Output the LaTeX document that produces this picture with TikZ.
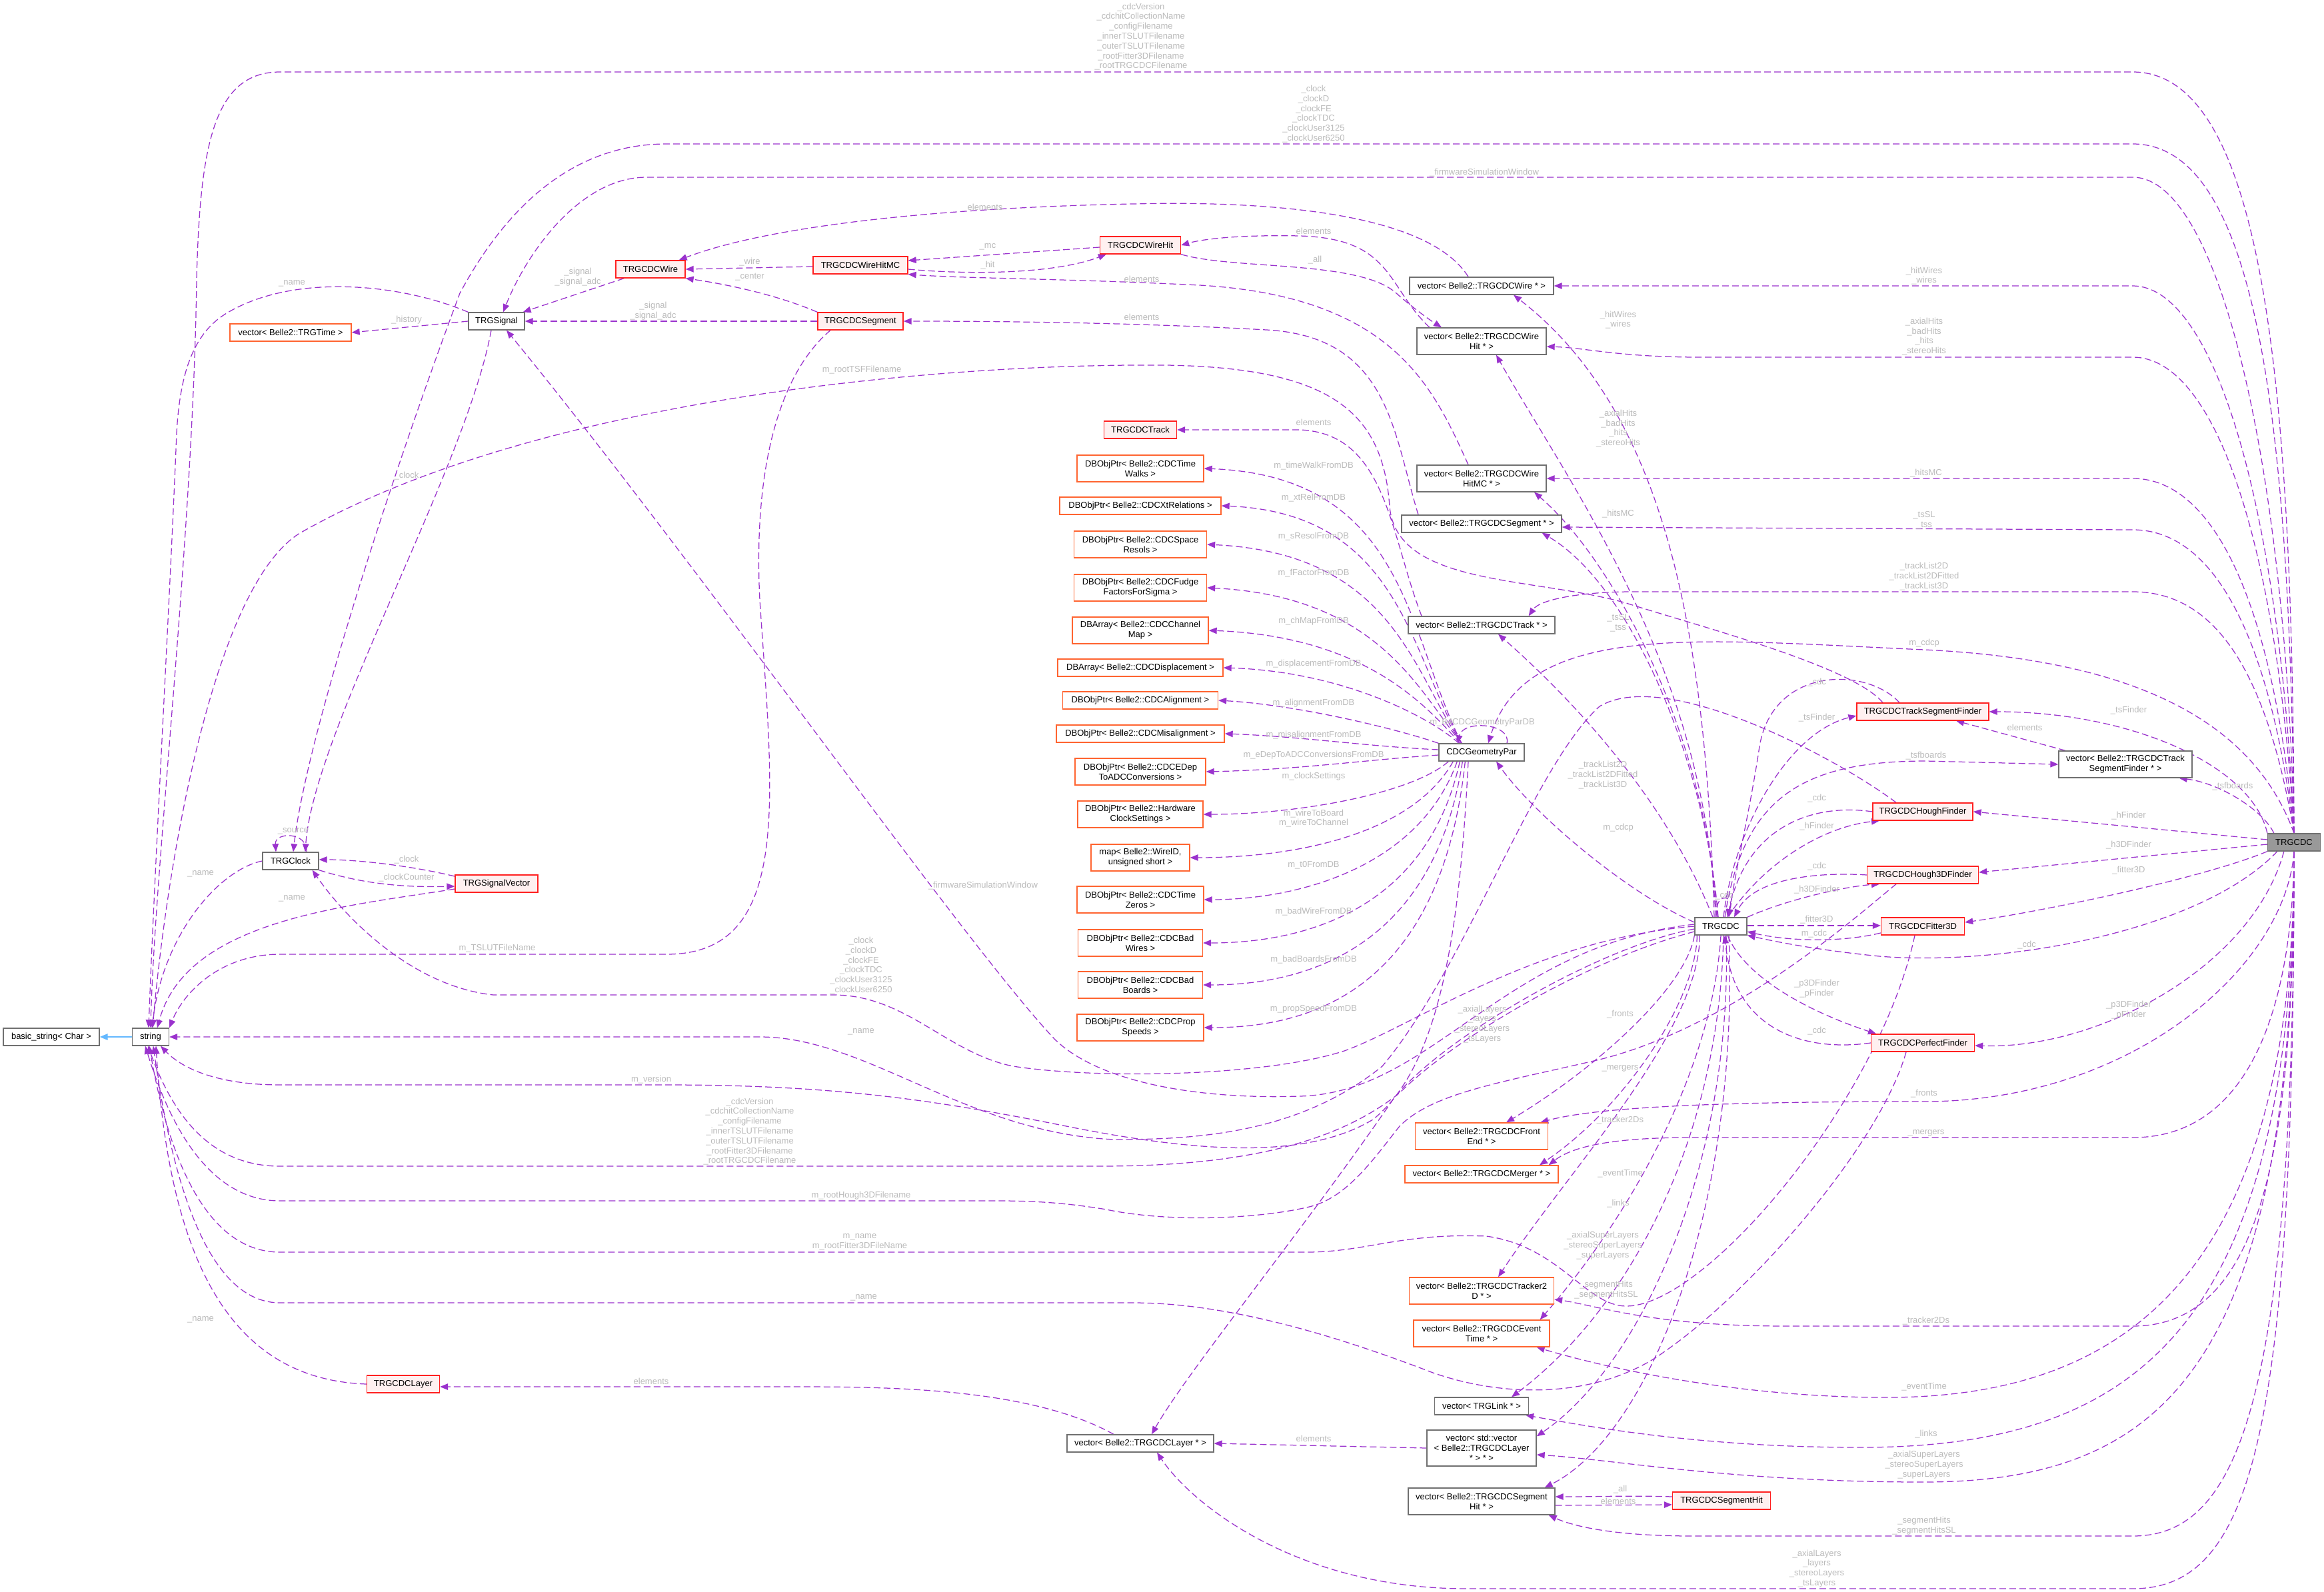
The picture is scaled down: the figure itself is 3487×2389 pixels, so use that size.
\documentclass[tikz,border=0pt]{standalone}
\usepackage{fontspec}
\setmainfont{Liberation Sans}
\usetikzlibrary{arrows.meta}
\definecolor{edgec}{HTML}{9A32CD}
\definecolor{labc}{HTML}{BBBBBB}
\definecolor{boxgray}{HTML}{707070}
\definecolor{redb}{HTML}{FF2020}
\definecolor{redf}{HTML}{FFF0F0}
\definecolor{orangeb}{HTML}{FF6430}
\definecolor{grayf}{HTML}{999999}
\definecolor{inhc}{HTML}{63B8FF}
\pgfdeclarelayer{bg}
\pgfsetlayers{bg,main}
\tikzset{
  nbox/.style={draw=boxgray, fill=white, line width=1.3pt, inner sep=1pt, minimum height=26pt, align=center, text=black},
  rbox/.style={nbox, draw=redb, fill=redf},
  obox/.style={nbox, draw=orangeb},
  gbox/.style={nbox, fill=grayf},
  two/.style={minimum height=40pt},
  lab/.style={text=labc, align=center, inner sep=0pt},
  edg/.style={draw=edgec, line width=1.25pt, dash pattern=on 10pt off 5pt, -{Triangle[length=12pt,width=9.5pt]}},
  inh/.style={draw=inhc, line width=1.6pt, -{Triangle[length=12pt,width=9.5pt]}},
}
\begin{document}
\begin{tikzpicture}[x=1pt,y=-1pt,font=\fontsize{13}{14.8}\selectfont]
\useasboundingbox (0,0) rectangle (3487,2389);
% ---------------- nodes
\node[nbox, minimum width=144pt] (bstr) at (77,1556) {basic\_string< Char >};
\node[nbox, minimum width=55pt] (str) at (226,1556) {string};
\node[nbox, minimum width=84pt] (clk) at (436,1292) {TRGClock};
\node[rbox, minimum width=124pt] (sv) at (745,1326) {TRGSignalVector};
\node[rbox, minimum width=109pt] (lay) at (605,2077) {TRGCDCLayer};
\node[obox, minimum width=182pt] (ttime) at (436,499) {vector< Belle2::TRGTime >};
\node[nbox, minimum width=84pt] (sig) at (745,482) {TRGSignal};
\node[rbox, minimum width=104pt] (wire) at (976,404) {TRGCDCWire};
\node[rbox, minimum width=142pt] (whmc) at (1291,398) {TRGCDCWireHitMC};
\node[rbox, minimum width=128pt] (seg) at (1291,482) {TRGCDCSegment};
\node[rbox, minimum width=121pt] (wh) at (1711,368) {TRGCDCWireHit};
\node[rbox, minimum width=109pt] (trk) at (1711,645) {TRGCDCTrack};
\node[obox, two, minimum width=190pt] (tw) at (1711,703) {DBObjPtr< Belle2::CDCTime\\Walks >};
\node[obox, minimum width=242pt] (xt) at (1711,759) {DBObjPtr< Belle2::CDCXtRelations >};
\node[obox, two, minimum width=199pt] (sr) at (1711,817) {DBObjPtr< Belle2::CDCSpace\\Resols >};
\node[obox, two, minimum width=199pt] (ff) at (1711,882) {DBObjPtr< Belle2::CDCFudge\\FactorsForSigma >};
\node[obox, two, minimum width=204pt] (cm) at (1711,946) {DBArray< Belle2::CDCChannel\\Map >};
\node[obox, minimum width=248pt] (dp) at (1711,1002) {DBArray< Belle2::CDCDisplacement >};
\node[obox, minimum width=233pt] (al) at (1711,1051) {DBObjPtr< Belle2::CDCAlignment >};
\node[obox, minimum width=252pt] (ma) at (1711,1101) {DBObjPtr< Belle2::CDCMisalignment >};
\node[obox, two, minimum width=196pt] (ed) at (1711,1158) {DBObjPtr< Belle2::CDCEDep\\ToADCConversions >};
\node[obox, two, minimum width=188pt] (hw) at (1711,1222) {DBObjPtr< Belle2::Hardware\\ClockSettings >};
\node[obox, two, minimum width=148pt] (wm) at (1711,1287) {map< Belle2::WireID,\\unsigned short >};
\node[obox, two, minimum width=190pt] (tz) at (1711,1350) {DBObjPtr< Belle2::CDCTime\\Zeros >};
\node[obox, two, minimum width=187pt] (bw) at (1711,1415) {DBObjPtr< Belle2::CDCBad\\Wires >};
\node[obox, two, minimum width=187pt] (bb) at (1711,1478) {DBObjPtr< Belle2::CDCBad\\Boards >};
\node[obox, two, minimum width=190pt] (ps) at (1711,1542) {DBObjPtr< Belle2::CDCProp\\Speeds >};
\node[nbox, minimum width=220pt] (vlay) at (1711,2166) {vector< Belle2::TRGCDCLayer * >};
\node[nbox, minimum width=216pt] (vwire) at (2223,429) {vector< Belle2::TRGCDCWire * >};
\node[nbox, two, minimum width=194pt] (vwh) at (2223,512) {vector< Belle2::TRGCDCWire\\Hit * >};
\node[nbox, two, minimum width=194pt] (vwhmc) at (2223,718) {vector< Belle2::TRGCDCWire\\HitMC * >};
\node[nbox, minimum width=240pt] (vseg) at (2223,786) {vector< Belle2::TRGCDCSegment * >};
\node[nbox, minimum width=220pt] (vtrk) at (2223,938) {vector< Belle2::TRGCDCTrack * >};
\node[nbox, minimum width=128pt] (geo) at (2223,1129) {CDCGeometryPar};
\node[obox, two, minimum width=199pt] (vfe) at (2223,1705) {vector< Belle2::TRGCDCFront\\End * >};
\node[obox, minimum width=230pt] (vmg) at (2223,1762) {vector< Belle2::TRGCDCMerger * >};
\node[obox, two, minimum width=217pt] (vt2d) at (2223,1937) {vector< Belle2::TRGCDCTracker2\\D * >};
\node[obox, two, minimum width=204pt] (vet) at (2223,2001) {vector< Belle2::TRGCDCEvent\\Time * >};
\node[nbox, minimum width=141pt] (vlink) at (2223,2110) {vector< TRGLink * >};
\node[nbox, minimum width=164pt, minimum height=54pt] (vvl) at (2223,2173) {vector< std::vector\\< Belle2::TRGCDCLayer\\ * > * >};
\node[nbox, two, minimum width=220pt] (vsh) at (2223,2253) {vector< Belle2::TRGCDCSegment\\Hit * >};
\node[nbox, minimum width=78pt] (M) at (2582,1390) {TRGCDC};
\node[rbox, minimum width=147pt] (sh) at (2583,2252) {TRGCDCSegmentHit};
\node[rbox, minimum width=198pt] (tsf) at (2885,1068) {TRGCDCTrackSegmentFinder};
\node[nbox, two, minimum width=200pt] (vtsf) at (3189,1147) {vector< Belle2::TRGCDCTrack\\SegmentFinder * >};
\node[rbox, minimum width=150pt] (hf) at (2885,1218) {TRGCDCHoughFinder};
\node[rbox, minimum width=167pt] (h3d) at (2885,1313) {TRGCDCHough3DFinder};
\node[rbox, minimum width=125pt] (fit) at (2885,1390) {TRGCDCFitter3D};
\node[rbox, minimum width=155pt] (pf) at (2885,1565) {TRGCDCPerfectFinder};
\node[gbox, minimum width=79pt] (R) at (3442,1264) {TRGCDC};
% ---------------- labels
\node[lab] (l1) at (1712,55) {\_cdcVersion\\\_cdchitCollectionName\\\_configFilename\\\_innerTSLUTFilename\\\_outerTSLUTFilename\\\_rootFitter3DFilename\\\_rootTRGCDCFilename};
\node[lab] (l2) at (1971,171) {\_clock\\\_clockD\\\_clockFE\\\_clockTDC\\\_clockUser3125\\\_clockUser6250};
\node[lab] (l3) at (2227,259) {\_firmwareSimulationWindow};
\node[lab] (l4) at (1478,311) {elements};
\node[lab] (l5) at (1482,370) {\_mc};
\node[lab] (l6) at (1482,398) {\_hit};
\node[lab] (l7) at (1971,347) {elements};
\node[lab] (l8) at (1973,390) {\_all};
\node[lab] (l9) at (1125,393) {\_wire};
\node[lab] (l10) at (1125,416) {\_center};
\node[lab] (l11) at (867,416) {\_signal\\\_signal\_adc};
\node[lab] (l12) at (980,467) {\_signal\\\_signal\_adc};
\node[lab] (l13) at (438,425) {\_name};
\node[lab] (l14) at (610,480) {\_history};
\node[lab] (l15) at (610,714) {\_clock};
\node[lab] (l16) at (1713,419) {elements};
\node[lab] (l17) at (1713,476) {elements};
\node[lab] (l18) at (1293,555) {m\_rootTSFFilename};
\node[lab] (l19) at (2887,414) {\_hitWires\\\_wires};
\node[lab] (l20) at (2428,480) {\_hitWires\\\_wires};
\node[lab] (l21) at (2887,505) {\_axialHits\\\_badHits\\\_hits\\\_stereoHits};
\node[lab] (l22) at (2428,643) {\_axialHits\\\_badHits\\\_hits\\\_stereoHits};
\node[lab] (l23) at (2890,710) {\_hitsMC};
\node[lab] (l24) at (2428,771) {\_hitsMC};
\node[lab] (l25) at (2887,781) {\_tsSL\\\_tss};
\node[lab] (l26) at (2428,935) {\_tsSL\\\_tss};
\node[lab] (l27) at (1971,634) {elements};
\node[lab] (l28) at (1971,699) {m\_timeWalkFromDB};
\node[lab] (l29) at (1971,747) {m\_xtRelFromDB};
\node[lab] (l30) at (1971,805) {m\_sResolFromDB};
\node[lab] (l31) at (1971,860) {m\_fFactorFromDB};
\node[lab] (l32) at (1971,932) {m\_chMapFromDB};
\node[lab] (l33) at (1971,996) {m\_displacementFromDB};
\node[lab] (l34) at (1971,1055) {m\_alignmentFromDB};
\node[lab] (l35) at (1971,1103) {m\_misalignmentFromDB};
\node[lab] (l36) at (1971,1133) {m\_eDepToADCConversionsFromDB};
\node[lab] (l37) at (1971,1165) {m\_clockSettings};
\node[lab] (l38) at (1971,1228) {m\_wireToBoard\\m\_wireToChannel};
\node[lab] (l39) at (1971,1298) {m\_t0FromDB};
\node[lab] (l40) at (1971,1368) {m\_badWireFromDB};
\node[lab] (l41) at (1971,1440) {m\_badBoardsFromDB};
\node[lab] (l42) at (1971,1514) {m\_propSpeedFromDB};
\node[lab] (l43) at (2224,1084) {m\_B4CDCGeometryParDB};
\node[lab] (l44) at (2887,865) {\_trackList2D\\\_trackList2DFitted\\\_trackList3D};
\node[lab] (l45) at (2405,1163) {\_trackList2D\\\_trackList2DFitted\\\_trackList3D};
\node[lab] (l46) at (2887,965) {m\_cdcp};
\node[lab] (l47) at (2428,1242) {m\_cdcp};
\node[lab] (l48) at (2726,1024) {\_cdc};
\node[lab] (l49) at (2726,1077) {\_tsFinder};
\node[lab] (l50) at (3194,1066) {\_tsFinder};
\node[lab] (l51) at (3038,1092) {elements};
\node[lab] (l52) at (2890,1134) {\_tsfboards};
\node[lab] (l53) at (3350,1180) {\_tsfboards};
\node[lab] (l54) at (2726,1198) {\_cdc};
\node[lab] (l55) at (2726,1240) {\_hFinder};
\node[lab] (l56) at (3194,1224) {\_hFinder};
\node[lab] (l57) at (2726,1300) {\_cdc};
\node[lab] (l58) at (2726,1335) {\_h3DFinder};
\node[lab] (l59) at (3194,1268) {\_h3DFinder};
\node[lab] (l60) at (2587,1344) {\_cdc};
\node[lab] (l61) at (2726,1380) {\_fitter3D};
\node[lab] (l62) at (2722,1401) {m\_cdc};
\node[lab] (l63) at (3194,1306) {\_fitter3D};
\node[lab] (l64) at (3041,1418) {\_cdc};
\node[lab] (l65) at (2726,1484) {\_p3DFinder\\\_pFinder};
\node[lab] (l66) at (3194,1516) {\_p3DFinder\\\_pFinder};
\node[lab] (l67) at (2726,1547) {\_cdc};
\node[lab] (l68) at (2431,1522) {\_fronts};
\node[lab] (l69) at (2887,1641) {\_fronts};
\node[lab] (l70) at (2431,1603) {\_mergers};
\node[lab] (l71) at (2890,1700) {\_mergers};
\node[lab] (l72) at (2431,1681) {\_tracker2Ds};
\node[lab] (l73) at (2890,1982) {\_tracker2Ds};
\node[lab] (l74) at (2431,1761) {\_eventTime};
\node[lab] (l75) at (2887,2081) {\_eventTime};
\node[lab] (l76) at (2428,1806) {\_links};
\node[lab] (l77) at (2890,2152) {\_links};
\node[lab] (l78) at (2405,1869) {\_axialSuperLayers\\\_stereoSuperLayers\\\_superLayers};
\node[lab] (l79) at (2887,2198) {\_axialSuperLayers\\\_stereoSuperLayers\\\_superLayers};
\node[lab] (l80) at (2410,1936) {\_segmentHits\\\_segmentHitsSL};
\node[lab] (l81) at (2887,2290) {\_segmentHits\\\_segmentHitsSL};
\node[lab] (l82) at (2224,1537) {\_axialLayers\\\_layers\\\_stereoLayers\\\_tsLayers};
\node[lab] (l83) at (2726,2354) {\_axialLayers\\\_layers\\\_stereoLayers\\\_tsLayers};
\node[lab] (l84) at (2431,2235) {\_all};
\node[lab] (l85) at (2428,2253) {elements};
\node[lab] (l86) at (1971,2159) {elements};
\node[lab] (l87) at (977,2073) {elements};
\node[lab] (l88) at (301,1980) {\_name};
\node[lab] (l89) at (1296,1947) {\_name};
\node[lab] (l90) at (1290,1864) {m\_name\\m\_rootFitter3DFileName};
\node[lab] (l91) at (1292,1794) {m\_rootHough3DFilename};
\node[lab] (l92) at (1125,1698) {\_cdcVersion\\\_cdchitCollectionName\\\_configFilename\\\_innerTSLUTFilename\\\_outerTSLUTFilename\\\_rootFitter3DFilename\\\_rootTRGCDCFilename};
\node[lab] (l93) at (977,1620) {m\_version};
\node[lab] (l94) at (1292,1548) {\_name};
\node[lab] (l95) at (1292,1449) {\_clock\\\_clockD\\\_clockFE\\\_clockTDC\\\_clockUser3125\\\_clockUser6250};
\node[lab] (l96) at (1475,1329) {\_firmwareSimulationWindow};
\node[lab] (l97) at (746,1423) {m\_TSLUTFileName};
\node[lab] (l98) at (438,1348) {\_name};
\node[lab] (l99) at (301,1311) {\_name};
\node[lab] (l100) at (440,1247) {\_source};
\node[lab] (l101) at (610,1290) {\_clock};
\node[lab] (l102) at (610,1317) {\_clockCounter};
% ---------------- edges
\begin{pgfonlayer}{bg}
\fill[white] (0,0) rectangle (3487,2389);
% main TRGCDC, upwards
\draw[edg] (R.north) .. controls (3440,600) and (3400,108) .. (3200,108) -- (420,108) .. controls (320,108) and (300,220) .. (295,420) .. controls (290,800) and (232,1300) .. (str.north);
\draw[edg] (R.north) .. controls (3436,650) and (3390,216) .. (3200,216) -- (1000,216) .. controls (860,216) and (760,310) .. (690,440) .. controls (600,680) and (460,1100) .. ([xshift=4pt]clk.north);
\draw[edg] (R.north) .. controls (3430,700) and (3330,266) .. (3200,266) -- (970,266) .. controls (870,266) and (790,380) .. ([xshift=10pt]sig.north);
\draw[edg] (R.north) .. controls (3420,750) and (3320,429) .. (3200,429) -- (vwire.east);
\draw[edg] (R.north) .. controls (3415,800) and (3320,536) .. (3200,536) -- (2550,536) .. controls (2430,536) and (2380,522) .. ([yshift=-8pt]vwh.east);
\draw[edg] (R.north) .. controls (3410,900) and (3320,718) .. (3200,718) -- (vwhmc.east);
\draw[edg] (R.north) .. controls (3405,950) and (3320,795) .. (3200,795) -- ([yshift=-5pt]vseg.east);
\draw[edg] (R.north) .. controls (3400,1000) and (3320,888) .. (3200,888) -- (2450,888) .. controls (2370,888) and (2310,900) .. ([xshift=-40pt]vtrk.north east);
\draw[edg] (R.north) .. controls (3380,1080) and (3200,990) .. (2887,975) .. controls (2550,960) and (2290,930) .. ([xshift=10pt]geo.north);
% main TRGCDC, sideways
\draw[edg] (R.north west) .. controls (3380,1150) and (3200,1068) .. (tsf.east);
\draw[edg] ([xshift=10pt]R.north west) .. controls (3395,1215) and (3330,1175) .. ([xshift=-20pt]vtsf.south east);
\draw[edg] ([yshift=4pt]R.west) -- (hf.east);
\draw[edg] ([yshift=-3pt]R.west) -- ([yshift=4pt]h3d.east);
\draw[edg] (R.south west) .. controls (3300,1320) and (3050,1370) .. ([yshift=6pt]fit.east);
\draw[edg] ([xshift=15pt]R.south west) .. controls (3300,1400) and (3000,1450) .. (2820,1435) .. controls (2720,1425) and (2660,1412) .. (M.south east);
\draw[edg] ([xshift=25pt]R.south west) .. controls (3380,1450) and (3150,1575) .. ([yshift=-4pt]pf.east);
% main TRGCDC, downwards
\draw[edg] (R.south) .. controls (3430,1450) and (3200,1653) .. (2887,1653) .. controls (2600,1653) and (2400,1660) .. ([xshift=-12pt]vfe.north east);
\draw[edg] (R.south) .. controls (3440,1500) and (3380,1707) .. (3200,1707) -- (2540,1707) .. controls (2420,1707) and (2360,1720) .. ([xshift=-15pt]vmg.north east);
\draw[edg] (R.south) .. controls (3442,1700) and (3400,1990) .. (3200,1990) -- (2680,1990) .. controls (2480,1990) and (2400,1960) .. ([yshift=8pt]vt2d.south east);
\draw[edg] (R.south) .. controls (3442,1900) and (3200,2097) .. (2830,2097) .. controls (2600,2097) and (2400,2050) .. ([xshift=-20pt]vet.south east);
\draw[edg] (R.south) .. controls (3442,2000) and (3200,2172) .. (2790,2172) .. controls (2550,2172) and (2380,2140) .. ([xshift=-5pt]vlink.south east);
\draw[edg] (R.south) .. controls (3442,2050) and (3250,2224) .. (2885,2224) .. controls (2600,2224) and (2420,2190) .. ([yshift=-10pt]vvl.east);
\draw[edg] (R.south) .. controls (3442,2100) and (3360,2305) .. (3200,2305) -- (2540,2305) .. controls (2420,2305) and (2360,2290) .. ([xshift=-10pt]vsh.south east);
\draw[edg] (R.south) .. controls (3442,2150) and (3380,2384) .. (3200,2384) -- (2200,2384) .. controls (1950,2384) and (1790,2260) .. ([xshift=25pt]vlay.south);
% inner TRGCDC
\draw[edg] ([xshift=-4pt]M.north) .. controls (2568,1340) and (2604,1340) .. ([xshift=10pt]M.north);
\draw[edg] ([xshift=-10pt]M.north) .. controls (2560,950) and (2500,620) .. ([xshift=48pt]vwire.south);
\draw[edg] ([xshift=-8pt]M.north) .. controls (2560,1000) and (2350,720) .. ([xshift=22pt]vwh.south);
\draw[edg] ([xshift=-6pt]M.north) .. controls (2560,1100) and (2420,840) .. ([xshift=79pt]vwhmc.south);
\draw[edg] ([xshift=-4pt]M.north) .. controls (2560,1150) and (2450,880) .. ([xshift=-30pt]vseg.south east);
\draw[edg] ([xshift=-12pt]M.north) .. controls (2500,1200) and (2360,1050) .. ([xshift=25pt]vtrk.south);
\draw[edg] ([yshift=6pt]M.west) .. controls (2440,1340) and (2300,1220) .. ([xshift=22pt]geo.south);
\draw[edg] ([xshift=4pt]M.north) .. controls (2600,1250) and (2680,1100) .. ([yshift=-6pt]tsf.west);
\draw[edg] ([xshift=6pt]M.north) .. controls (2615,1200) and (2700,1142) .. (2890,1142) -- (vtsf.west);
\draw[edg] ([xshift=10pt]M.north) .. controls (2650,1290) and (2740,1240) .. ([xshift=-65pt]hf.south);
\draw[edg] (M.north east) .. controls (2680,1350) and (2770,1330) .. ([xshift=-65pt]h3d.south);
\draw[edg] ([yshift=1pt]M.east) -- ([yshift=1pt]fit.west);
\draw[edg] ([yshift=-10pt]fit.west) .. controls (2760,1415) and (2680,1412) .. ([yshift=-8pt]M.east);
\draw[edg] ([xshift=10pt]M.south) .. controls (2620,1470) and (2720,1520) .. ([xshift=-70pt]pf.north);
\draw[edg] ([xshift=-35pt]tsf.north) .. controls (2800,1000) and (2660,1000) .. (2640,1120) .. controls (2625,1220) and (2605,1300) .. ([xshift=12pt]M.north);
\draw[edg] (hf.west) .. controls (2720,1205) and (2620,1240) .. ([xshift=10pt]M.north);
\draw[edg] (h3d.west) .. controls (2720,1308) and (2630,1320) .. ([xshift=20pt]M.north);
\draw[edg] (pf.west) .. controls (2700,1580) and (2600,1540) .. ([xshift=6pt]M.south);
\draw[edg] (M.south west) .. controls (2530,1480) and (2400,1600) .. ([xshift=37pt]vfe.north);
\draw[edg] ([xshift=4pt]M.south west) .. controls (2545,1500) and (2440,1660) .. ([xshift=87pt]vmg.north);
\draw[edg] ([xshift=8pt]M.south west) .. controls (2550,1550) and (2350,1760) .. ([xshift=25pt]vt2d.north);
\draw[edg] (M.south) .. controls (2570,1600) and (2450,1820) .. ([xshift=-15pt]vet.north east);
\draw[edg] ([xshift=4pt]M.south) .. controls (2580,1700) and (2450,1960) .. ([xshift=45pt]vlink.north);
\draw[edg] ([xshift=8pt]M.south) .. controls (2600,1750) and (2460,2050) .. ([yshift=-10pt]vvl.north east);
\draw[edg] ([xshift=12pt]M.south) .. controls (2610,1800) and (2480,2150) .. ([xshift=-16pt]vsh.north east);
\draw[edg] ([yshift=-4pt]M.west) .. controls (2400,1420) and (2160,1560) .. (2090,1650) .. controls (1960,1840) and (1780,2060) .. ([xshift=17pt]vlay.north);
\draw[edg] (M.west) .. controls (2300,1410) and (2120,1540) .. (2017,1577) .. controls (1900,1615) and (1650,1620) .. (1520,1600) .. controls (1420,1580) and (1360,1493) .. (1250,1493) -- (740,1493) .. controls (620,1480) and (520,1380) .. ([xshift=-10pt]clk.south east);
\draw[edg] ([yshift=3pt]M.west) .. controls (2250,1420) and (2150,1640) .. (1950,1645) .. controls (1800,1650) and (1650,1625) .. (1583,1560) .. controls (1450,1420) and (1050,850) .. ([xshift=15pt]sig.south);
\draw[edg] ([yshift=-8pt]M.west) .. controls (2380,1440) and (2180,1560) .. (2100,1640) .. controls (2000,1720) and (1850,1750) .. (1650,1750) -- (420,1750) .. controls (320,1750) and (262,1680) .. ([xshift=-4pt]str.south);
% finders to string
\draw[edg] ([xshift=-60pt]tsf.north) .. controls (2780,1000) and (2550,940) .. (2440,905) .. controls (2300,865) and (2095,880) .. (2085,760) .. controls (2075,620) and (2000,552) .. (1750,548) .. controls (1400,545) and (800,600) .. (450,800) .. controls (320,880) and (250,1300) .. ([xshift=3pt]str.north);
\draw[edg] ([xshift=-40pt]hf.north) .. controls (2760,1140) and (2500,1000) .. (2400,1060) .. controls (2300,1150) and (2200,1450) .. (2074,1600) .. controls (1950,1700) and (1800,1710) .. (1672,1710) .. controls (1450,1700) and (1300,1556) .. (1140,1556) -- (str.east);
\draw[edg] ([xshift=-40pt]h3d.south) .. controls (2780,1380) and (2600,1540) .. (2400,1590) .. controls (2250,1625) and (2150,1640) .. (2100,1690) .. controls (2060,1740) and (2020,1800) .. (1960,1812) .. controls (1880,1830) and (1750,1834) .. (1660,1815) .. controls (1600,1805) and (1550,1802) .. (1500,1802) -- (420,1802) .. controls (320,1802) and (258,1700) .. ([xshift=-8pt]str.south);
\draw[edg] ([xshift=-12pt]fit.south) .. controls (2820,1650) and (2560,1960) .. (2440,1960) .. controls (2380,1960) and (2340,1870) .. (2230,1855) .. controls (2100,1850) and (2050,1879) .. (1960,1879) -- (420,1879) .. controls (315,1879) and (255,1750) .. ([xshift=-2pt]str.south);
\draw[edg] ([xshift=-25pt]pf.south) .. controls (2820,1720) and (2620,1950) .. (2480,2040) .. controls (2380,2100) and (2250,2095) .. (2150,2060) .. controls (2020,2010) and (1850,1955) .. (1700,1955) -- (420,1955) .. controls (320,1955) and (262,1800) .. ([xshift=4pt]str.south);
\draw[edg] ([xshift=-20pt]geo.south) .. controls (2190,1400) and (2160,1600) .. (2060,1680) .. controls (1960,1740) and (1800,1730) .. (1600,1690) .. controls (1400,1650) and (1250,1628) .. (1000,1628) -- (420,1628) .. controls (330,1628) and (275,1605) .. ([xshift=15pt]str.south);
\draw[edg] ([xshift=-45pt]seg.south) .. controls (1170,560) and (1130,700) .. (1140,900) .. controls (1160,1200) and (1190,1432) .. (1000,1432) -- (420,1432) .. controls (330,1432) and (275,1490) .. (str.north east);
% CDCGeometryPar
\draw[edg] ([xshift=38pt]geo.north) .. controls (2268,1085) and (2195,1080) .. ([xshift=-36pt]geo.north);
\draw[edg] ([xshift=-30pt]geo.north) .. controls (2110,950) and (2110,715) .. (tw.east);
\draw[edg] ([xshift=-30pt]geo.north) .. controls (2115,980) and (2100,770) .. (xt.east);
\draw[edg] ([xshift=-30pt]geo.north) .. controls (2120,1010) and (2090,830) .. (sr.east);
\draw[edg] ([xshift=-30pt]geo.north) .. controls (2130,1040) and (2070,895) .. (ff.east);
\draw[edg] ([xshift=-32pt]geo.north) .. controls (2140,1060) and (2050,955) .. (cm.east);
\draw[edg] ([xshift=-34pt]geo.north) .. controls (2150,1080) and (2020,1008) .. (dp.east);
\draw[edg] (geo.north west) .. controls (2100,1095) and (1950,1058) .. (al.east);
\draw[edg] ([yshift=4pt]geo.west) .. controls (2050,1120) and (1950,1105) .. (ma.east);
\draw[edg] ([yshift=-4pt]geo.west) .. controls (2050,1140) and (1950,1155) .. (ed.east);
\draw[edg] ([xshift=15pt]geo.south west) .. controls (2120,1190) and (1950,1222) .. (hw.east);
\draw[edg] ([xshift=22pt]geo.south west) .. controls (2120,1250) and (1950,1287) .. (wm.east);
\draw[edg] ([xshift=28pt]geo.south west) .. controls (2130,1300) and (1950,1350) .. (tz.east);
\draw[edg] ([xshift=32pt]geo.south west) .. controls (2140,1370) and (1950,1415) .. (bw.east);
\draw[edg] ([xshift=36pt]geo.south west) .. controls (2150,1430) and (1950,1478) .. (bb.east);
\draw[edg] ([xshift=40pt]geo.south west) .. controls (2160,1500) and (1950,1542) .. (ps.east);
% containers to elements
\draw[edg] ([xshift=-20pt]vwire.north) .. controls (2150,330) and (1950,300) .. (1700,306) .. controls (1400,312) and (1150,340) .. ([xshift=-10pt]wire.north east);
\draw[edg] ([xshift=-78pt]vwh.north) .. controls (2080,430) and (2090,358) .. (1950,354) .. controls (1850,352) and (1800,360) .. (wh.east);
\draw[edg] (wh.south east) .. controls (1850,405) and (2040,390) .. (2095,440) .. controls (2120,462) and (2145,480) .. ([xshift=-60pt]vwh.north);
\draw[edg] ([xshift=-20pt]vwhmc.north) .. controls (2150,580) and (2090,445) .. (1800,428) .. controls (1600,418) and (1450,418) .. (whmc.south east);
\draw[edg] ([xshift=-95pt]vseg.north) .. controls (2090,650) and (2085,505) .. (1900,495) .. controls (1700,484) and (1500,482) .. (seg.east);
\draw[edg] ([xshift=-90pt]vtrk.north) .. controls (2085,800) and (2080,650) .. (1950,645) -- (trk.east);
\draw[edg] ([xshift=-90pt]vtsf.north) -- ([xshift=50pt]tsf.south);
\draw[edg] (vvl.west) -- (vlay.east);
\draw[edg] ([xshift=-40pt]vlay.north) .. controls (1550,2085) and (1350,2081) .. (1200,2081) -- ([yshift=-4pt]lay.east);
\draw[edg] (lay.west) .. controls (350,2070) and (255,1900) .. ([xshift=8pt]str.south);
\draw[edg] ([yshift=-6pt]vsh.east) -- ([yshift=-6pt]sh.west);
\draw[edg] ([yshift=6pt]sh.west) .. controls (2450,2244) and (2400,2246) .. ([yshift=7pt]vsh.east);
% wire / segment / signal cluster
\draw[edg] ([yshift=-3pt]wh.west) -- ([yshift=7pt]whmc.east);
\draw[edg] ([yshift=-6pt]whmc.east) .. controls (1450,412) and (1580,412) .. ([xshift=10pt]wh.south west);
\draw[edg] ([yshift=-2pt]whmc.west) -- (wire.east);
\draw[edg] (seg.north west) .. controls (1160,440) and (1080,425) .. (wire.south east);
\draw[edg] ([xshift=13pt]wire.south west) -- ([xshift=-3pt]sig.north east);
\draw[edg] (seg.west) -- (sig.east);
\draw[edg] (sig.north west) .. controls (600,425) and (440,410) .. (340,470) .. controls (290,500) and (270,560) .. (265,650) .. controls (255,900) and (232,1300) .. ([xshift=-3pt]str.north);
\draw[edg] (sig.west) -- (ttime.east);
\draw[edg] ([xshift=-8pt]sig.south) .. controls (700,700) and (470,1100) .. ([xshift=22pt]clk.north);
% clock cluster
\draw[edg] ([xshift=24pt]clk.north) .. controls (462,1248) and (412,1248) .. ([xshift=-22pt]clk.north);
\draw[edg] (clk.west) .. controls (330,1305) and (245,1400) .. ([xshift=2pt]str.north);
\draw[edg] ([yshift=11pt]sv.west) .. controls (620,1300) and (540,1290) .. ([yshift=2pt]clk.east);
\draw[edg] (clk.south east) .. controls (540,1325) and (600,1332) .. ([yshift=-4pt]sv.west);
\draw[edg] ([yshift=-8pt]sv.west) .. controls (520,1360) and (280,1380) .. ([xshift=10pt]str.north);
\draw[inh] (str.west) -- (bstr.east);
\end{pgfonlayer}
\end{tikzpicture}
\end{document}
